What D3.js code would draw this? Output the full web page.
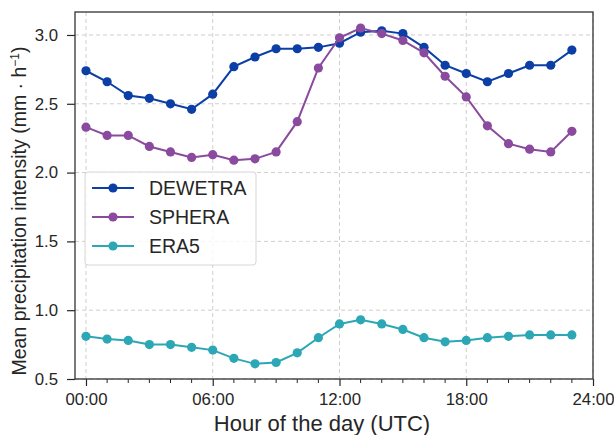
<!DOCTYPE html>
<head>
  <script src="https://d3js.org/d3.v7.min.js"></script>
  <style>
    body { margin: 0; background: #fff; }
    text { font-family: "Liberation Sans", Arial, sans-serif; fill: #262626; }
  </style>
</head>
<body>
  <svg width="614" height="435"></svg>
  <script>
    const hours = d3.range(0, 24);
    const dewetra = [2.74, 2.66, 2.56, 2.54, 2.50, 2.46, 2.57, 2.77, 2.84, 2.90, 2.90, 2.91,
                     2.94, 3.02, 3.03, 3.01, 2.91, 2.78, 2.72, 2.66, 2.72, 2.78, 2.78, 2.89];
    const sphera = [2.33, 2.27, 2.27, 2.19, 2.15, 2.11, 2.13, 2.09, 2.10, 2.15, 2.37, 2.76,
                    2.98, 3.05, 3.01, 2.96, 2.87, 2.70, 2.55, 2.34, 2.21, 2.17, 2.15, 2.30];
    const era5 = [0.81, 0.79, 0.78, 0.75, 0.75, 0.73, 0.71, 0.65, 0.61, 0.62, 0.69, 0.80,
                  0.90, 0.93, 0.90, 0.86, 0.80, 0.77, 0.78, 0.80, 0.81, 0.82, 0.82, 0.82];
    const seriesNames = ["DEWETRA", "SPHERA", "ERA5"];
    const seriesColors = ["#0b3fa6", "#8a4a9e", "#2ca7b5"];
    const xTicks = [0, 6, 12, 18, 24];
    const xTickLabels = ["00:00", "06:00", "12:00", "18:00", "24:00"];
    const yTicks = [0.5, 1.0, 1.5, 2.0, 2.5, 3.0];

    const series = [dewetra, sphera, era5];

    const margin = { left: 75, right: 21, top: 12, bottom: 56 };
    const width = 614, height = 435;
    const svg = d3.select("svg");

    const x = d3.scaleLinear().domain([-0.52, 24]).range([margin.left, width - margin.right]);
    const y = d3.scaleLinear().domain([0.5, 3.167]).range([height - margin.bottom, margin.top]);

    // grid
    const grid = svg.append("g");
    grid.selectAll(".gx").data(xTicks).enter().append("line")
      .attr("x1", d => x(d)).attr("x2", d => x(d))
      .attr("y1", margin.top).attr("y2", height - margin.bottom)
      .attr("stroke", "#cfcfcf").attr("stroke-width", 1).attr("stroke-dasharray", "4,3");
    grid.selectAll(".gy").data(yTicks).enter().append("line")
      .attr("x1", margin.left).attr("x2", width - margin.right)
      .attr("y1", d => y(d)).attr("y2", d => y(d))
      .attr("stroke", "#cfcfcf").attr("stroke-width", 1).attr("stroke-dasharray", "4,3");

    // lines + markers
    const line = d3.line().x((d, i) => x(hours[i])).y(d => y(d));
    series.forEach(function (vals, k) {
      svg.append("path")
        .datum(vals)
        .attr("d", line)
        .attr("fill", "none")
        .attr("stroke", seriesColors[k])
        .attr("stroke-width", 2);
      svg.append("g").selectAll("circle")
        .data(vals).enter().append("circle")
        .attr("cx", (d, i) => x(hours[i]))
        .attr("cy", d => y(d))
        .attr("r", 4.6)
        .attr("fill", seriesColors[k]);
    });

    // axes
    const xAxis = svg.append("g")
      .attr("transform", "translate(0," + (height - margin.bottom) + ")")
      .call(d3.axisBottom(x).tickValues(xTicks).tickFormat((d, i) => xTickLabels[i])
        .tickSizeInner(7).tickSizeOuter(0).tickPadding(7));
    xAxis.select(".domain").remove();
    xAxis.selectAll("text").style("font-size", "16.8px");
    xAxis.selectAll("line").attr("stroke", "#262626").attr("stroke-width", 1.2);
    svg.append("g")
      .attr("transform", "translate(0," + (height - margin.bottom) + ")")
      .selectAll("line").data(d3.range(1, 24).filter(h => h % 6 !== 0)).enter().append("line")
      .attr("x1", d => x(d)).attr("x2", d => x(d))
      .attr("y1", 0).attr("y2", 4)
      .attr("stroke", "#262626").attr("stroke-width", 1);

    const yAxis = svg.append("g")
      .attr("transform", "translate(" + margin.left + ",0)")
      .call(d3.axisLeft(y).tickValues(yTicks).tickFormat(d3.format(".1f"))
        .tickSizeInner(8).tickSizeOuter(0).tickPadding(9));
    yAxis.select(".domain").remove();
    yAxis.selectAll("text").style("font-size", "16.8px");
    yAxis.selectAll("line").attr("stroke", "#262626").attr("stroke-width", 1.2);

    // frame
    svg.append("rect")
      .attr("x", margin.left).attr("y", margin.top)
      .attr("width", width - margin.left - margin.right)
      .attr("height", height - margin.top - margin.bottom)
      .attr("fill", "none").attr("stroke", "#333").attr("stroke-width", 1.3);

    // axis labels
    svg.append("text")
      .attr("x", 322).attr("y", 431)
      .attr("text-anchor", "middle")
      .style("font-size", "22px")
      .text("Hour of the day (UTC)");
    const yl = svg.append("text")
      .attr("transform", "translate(26,211) rotate(-90)")
      .attr("text-anchor", "middle")
      .style("font-size", "19.5px");
    yl.append("tspan").text("Mean precipitation intensity (mm \u00b7 h");
    yl.append("tspan").attr("dy", -7).style("font-size", "12px").text("\u22121");
    yl.append("tspan").attr("dy", 7).text(")");

    // legend
    const lg = svg.append("g").attr("transform", "translate(85,172)");
    lg.append("rect")
      .attr("width", 171).attr("height", 93).attr("rx", 3)
      .attr("fill", "#fff").attr("fill-opacity", 0.8)
      .attr("stroke", "#d6d6d6").attr("stroke-width", 1);
    seriesNames.forEach(function (name, k) {
      const ly = 16 + k * 29;
      lg.append("line")
        .attr("x1", 7).attr("x2", 49).attr("y1", ly).attr("y2", ly)
        .attr("stroke", seriesColors[k]).attr("stroke-width", 2);
      lg.append("circle").attr("cx", 28).attr("cy", ly).attr("r", 4.6).attr("fill", seriesColors[k]);
      lg.append("text").attr("x", 64).attr("y", ly + 7)
        .style("font-size", "19.5px").text(name);
    });
  </script>
</body>
